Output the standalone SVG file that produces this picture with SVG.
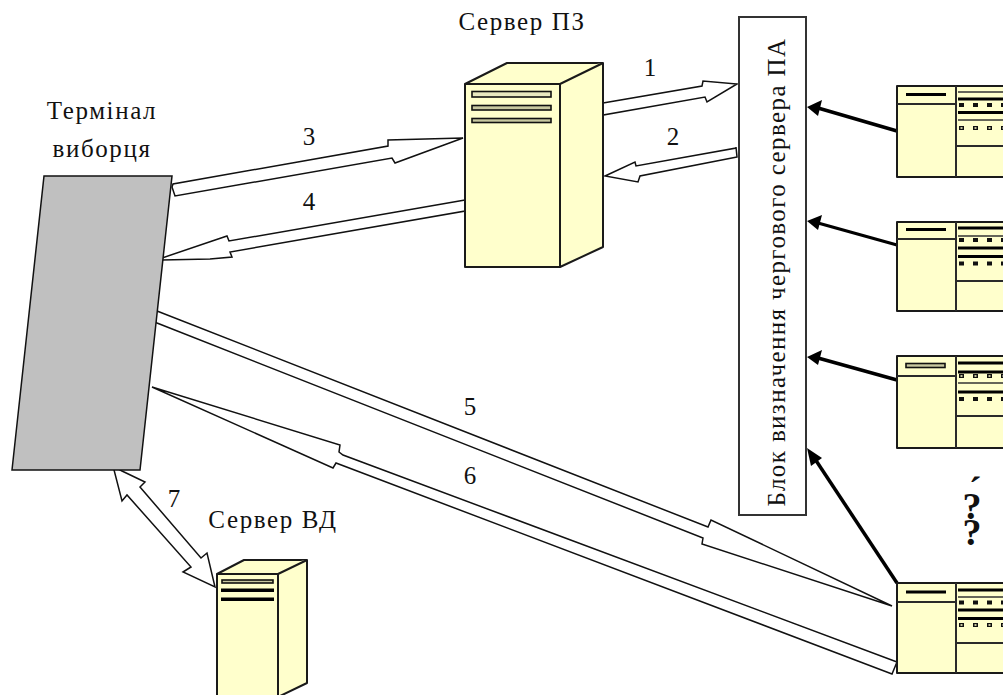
<svg xmlns="http://www.w3.org/2000/svg" width="1003" height="695" viewBox="0 0 1003 695">
<style>
.b{fill:#ffffcc;stroke:#1a1a1a;stroke-width:2;stroke-linejoin:round}
.slot{fill:#c8c8a0;stroke:#111;stroke-width:1.6}
.k{stroke:#000;stroke-width:3;fill:none}
.t{stroke:#333;stroke-width:1.5;fill:none}
.w{fill:none;stroke:#2a2a2a;stroke-width:2}
.h{fill:#fff;stroke:#111;stroke-width:1.5;stroke-linejoin:miter}
.ha{fill:none;stroke:#111;stroke-width:1.5}
.a{fill:#000;stroke:none}
.sq{stroke:#111;stroke-width:4;stroke-dasharray:5 9;stroke-dashoffset:-1;fill:none}
.hq{stroke:#ffffcc;stroke-width:1.5;stroke-dasharray:2 12;stroke-dashoffset:-2.500;fill:none}
text{font-family:"Liberation Serif","Times New Roman",serif;fill:#111;font-size:25px;letter-spacing:1.6px}
.n{letter-spacing:0}
.m{text-anchor:middle}
</style>
<rect width="1003" height="695" fill="#fff"/>
<g id="connectors">
<polygon class="h" points="113,466 122,471 145,482 140,487 201,558 207,553 215,587 183,572 191,567 127,495 122,501"/>
<polygon class="h" points="603,103 702,86 703,81 737,84 707,102 705,97 603,115"/>
<polygon class="h" points="737,157 640,176 638,182 605,176 635,162 636,166 736,148 736,147"/>
<polygon class="h" points="172,187 173,184 388,146 388,140 463,138 395,163 392,158 175,196"/>
<polygon class="h" points="465,200 229,241 227,236 162,258 162,260 210,259 232,257 230,252 465,211"/>
<line x1="150" y1="261" x2="163" y2="260" stroke="#000" stroke-width="2"/>
<polyline class="ha" points="157,311 708,527 711,520 892,606 702,544 703,538 157,323 152,320 157,311"/>
<polyline class="ha" points="897,662 343,455 339,452 340,445 152,387 333,468 336,463 892,674 897,662"/>
<g>
<polygon class="a" points="807,107 822,100 818,116"/><line x1="818" y1="108" x2="897" y2="131" stroke="#000" stroke-width="3.500"/>
<polygon class="a" points="807,221 822,215 818,230"/><line x1="818" y1="223" x2="897" y2="245" stroke="#000" stroke-width="3"/>
<polygon class="a" points="807,357 822,350 818,365"/><line x1="818" y1="358" x2="897" y2="380" stroke="#000" stroke-width="3.500"/>
<polygon class="a" points="807,448 822,458 811,466"/><line x1="815" y1="459" x2="897" y2="583" stroke="#000" stroke-width="3.500"/>
</g>
</g>
<g id="terminal">
<polygon points="44,176 172,176 140,470 12,470" fill="#c0c0c0" stroke="#111" stroke-width="1.5"/>
<text class="m" x="102" y="119">Термінал</text>
<text class="m" x="102" y="157">виборця</text>
</g>
<g id="server-pz">
<polygon class="b" points="465,84 507,63 603,63 603,247 560,267 465,267"/>
<path class="b" d="M465,84H560L603,63M560,84V267" fill="none"/>
<rect class="slot" x="472" y="91.500" width="79" height="5.500" style="fill:#e8e8c0"/>
<rect class="slot" x="472" y="105.500" width="79" height="4.500"/>
<rect class="slot" x="472" y="118.500" width="79" height="4"/>
<text class="m" x="522" y="30">Сервер ПЗ</text>
</g>
<g id="server-vd">
<polygon class="b" points="217,574 244,560 307,560 307,683 278,697 217,697"/>
<path class="b" d="M217,574H278L307,560M278,574V697" fill="none"/>
<rect class="slot" x="222" y="580" width="51" height="3"/>
<rect x="221" y="588.500" width="53" height="3.500" fill="#000"/>
<rect x="221" y="597.500" width="53" height="3.500" fill="#000"/>
<text class="m" x="273" y="528">Сервер ВД</text>
</g>
<g id="block">
<rect x="739" y="17" width="67" height="498" fill="#fff" stroke="#333" stroke-width="2"/>
<text class="m" transform="translate(785,272) rotate(-90)" style="letter-spacing:1.4px">Блок визначення чергового сервера ПА</text>
</g>
<g id="window-1">
<rect class="b" x="897" y="86" width="120" height="91"/>
<path class="w" d="M897,104H956M956,86V177M956,146H1003"/>
<path class="k" d="M906,94.500H946M958,99H1003M958,112.500H1003"/>
<path class="t" d="M958,92H1003M958,120H1003"/>
<path class="sq" d="M958,105H1003M958,128H1003"/>
<path class="hq" d="M958,128H1003"/>
</g>
<g id="window-2">
<rect class="b" x="897" y="222" width="120" height="89"/>
<path class="w" d="M897,239H956M956,222V311M956,281H1003"/>
<path class="k" d="M906,229.500H946M958,228H1003M958,248H1003M958,256.500H1003"/>
<path class="t" d="M958,236H1003"/>
<path class="sq" d="M958,240H1003M958,263.500H1003"/>
</g>
<g id="window-3">
<rect class="b" x="897" y="356" width="120" height="92"/>
<path class="w" d="M897,376H956M956,356V448M956,416H1003"/>
<rect class="slot" x="906" y="363.500" width="39" height="4"/>
<path class="k" d="M958,363H1003M958,372H1003M958,392H1003"/>
<path class="t" d="M958,383H1003"/>
<path class="sq" d="M958,376H1003M958,399H1003"/>
<path class="hq" d="M958,376H1003"/>
</g>
<g id="window-4">
<rect class="b" x="897" y="583" width="120" height="90"/>
<path class="w" d="M897,602H956M956,583V673M956,643H1003"/>
<path class="k" d="M906,592H946M958,590H1003M958,610H1003M958,618.500H1003"/>
<path class="t" d="M958,597H1003"/>
<path class="sq" d="M958,602.500H1003M958,625H1003"/>
<path class="hq" d="M958,625H1003"/>
</g>
<g id="labels">
<text class="m n" x="650" y="76">1</text>
<text class="m n" x="673" y="145">2</text>
<text class="m n" x="309" y="145">3</text>
<text class="m n" x="309" y="210">4</text>
<text class="m n" x="470" y="415">5</text>
<text class="m n" x="470" y="484">6</text>
<text class="m n" x="174" y="507">7</text>
</g>
<g id="dots">
<text class="m n" style="font-size:38px;font-weight:bold"><tspan x="975" y="503">´</tspan><tspan x="972" y="519">?</tspan><tspan x="972" y="545">?</tspan></text>
</g>
</svg>
